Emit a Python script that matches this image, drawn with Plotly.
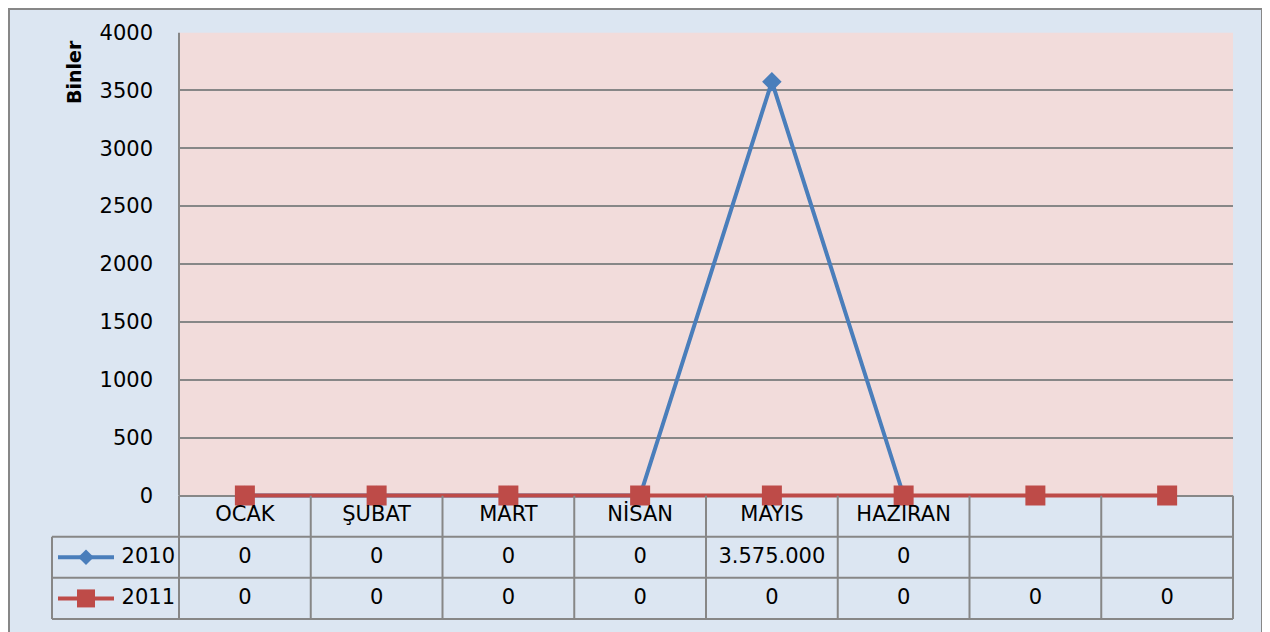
import plotly.graph_objects as go

# Monthly figures (raw units); chart shows them in thousands ("Binler")
months = ["OCAK", "ŞUBAT", "MART", "NİSAN", "MAYIS", "HAZIRAN", "", ""]
values_2010 = [0, 0, 0, 0, 3575000, 0, None, None]
values_2011 = [0, 0, 0, 0, 0, 0, 0, 0]
y_ticks = [0, 500, 1000, 1500, 2000, 2500, 3000, 3500, 4000]

BLUE = "#4A7EBB"
RED = "#BE4B48"
GRID = "#878787"
PINK = "#F2DCDB"
BG = "#DCE6F2"
FONT = "DejaVu Sans"

# the page puts the figure 8px in from the top-left corner
OFF = 8
FW, FH = 1270 - OFF, 632 - OFF
L, R, T, B = 38, 33, 22, 11
# target positions (screen pixels)
PX0, PX1 = 179, 1233
PY_TOP, PY_ZERO, PY_TAB = 32.5, 495.5, 619
Y_PAD = 60


def px_x(p):
    return (p - OFF - L) / (FW - L - R)


def px_y(p):
    return (FH - B - (p - OFF)) / (FH - T - B)


unit_x = (PX1 - PX0) / len(months)
unit_y = (PY_ZERO - PY_TOP) / 4000
row_h = (PY_TAB - PY_ZERO) / 3


def xp(p):
    return -0.5 + (p - PX0) / unit_x


def fmt(v):
    return "" if v is None else f"{v:,}".replace(",", ".")


idx = list(range(len(months)))
k2010 = [None if v is None else v / 1000 for v in values_2010]
k2011 = [None if v is None else v / 1000 for v in values_2011]

fig = go.Figure()

fig.add_trace(go.Scatter(
    x=idx, y=k2010, mode="lines+markers", name="2010",
    line=dict(color=BLUE, width=4),
    marker=dict(symbol="diamond", size=15, color=BLUE),
    cliponaxis=False, showlegend=False,
))
fig.add_trace(go.Scatter(
    x=idx, y=k2011, mode="lines+markers", name="2011",
    line=dict(color=RED, width=4),
    marker=dict(symbol="square", size=20, color=RED),
    cliponaxis=False, showlegend=False,
))

# data table below the chart
txt = dict(family=FONT, size=21, color="black")
for row, labels in [(0.5, months),
                    (1.5, [fmt(v) for v in values_2010]),
                    (2.5, [fmt(v) for v in values_2011])]:
    fig.add_trace(go.Scatter(x=idx, y=[row] * len(idx), text=labels, mode="text",
                             textfont=txt, xaxis="x2", yaxis="y2", showlegend=False))

# legend keys inside the table
for row, name, color, sym, size in [(1.5, "2010", BLUE, "diamond", 12),
                                     (2.5, "2011", RED, "square", 18)]:
    fig.add_trace(go.Scatter(
        x=[xp(58), xp(114)], y=[row] * 2, mode="lines",
        line=dict(color=color, width=4),
        xaxis="x2", yaxis="y2", showlegend=False, hoverinfo="skip",
    ))
    fig.add_trace(go.Scatter(
        x=[xp(86)], y=[row], mode="markers",
        marker=dict(symbol=sym, size=size, color=color, opacity=1),
        xaxis="x2", yaxis="y2", showlegend=False, hoverinfo="skip",
    ))
    fig.add_trace(go.Scatter(
        x=[xp(175)], y=[row], text=[name], mode="text", textposition="middle left",
        textfont=txt, xaxis="x2", yaxis="y2", showlegend=False,
    ))

x2_lo = -0.5 - (PX0 - OFF - L) / unit_x
x2_hi = len(months) - 0.5 + (FW - R - (PX1 - OFF)) / unit_x
y2_hi = 3 + (FH - B - (PY_TAB - OFF)) / row_h

shapes = [
    dict(type="rect", xref="x domain", yref="y", x0=0, x1=1, y0=0, y1=4000,
         fillcolor=PINK, line=dict(width=0), layer="below"),
    dict(type="rect", xref="paper", yref="paper", x0=px_x(9), x1=px_x(1262),
         y0=px_y(645), y1=px_y(9), line=dict(color=GRID, width=2)),
    dict(type="line", xref="x domain", yref="y", x0=0, x1=0, y0=0, y1=4000,
         line=dict(color=GRID, width=2)),
]
tl = dict(color=GRID, width=2)
for i in range(len(months) + 1):
    shapes.append(dict(type="line", xref="x2", yref="y2", x0=i - 0.5, x1=i - 0.5,
                       y0=0, y1=3, line=tl))
shapes.append(dict(type="line", xref="x2", yref="y2", x0=xp(52), x1=xp(52),
                   y0=1, y1=3, line=tl))
for r in (1, 2, 3):
    shapes.append(dict(type="line", xref="x2", yref="y2", x0=xp(52),
                       x1=len(months) - 0.5, y0=r, y1=r, line=tl))

hidden = dict(showgrid=False, showticklabels=False, zeroline=False, showline=False,
              automargin=False)

fig.update_layout(
    width=FW, height=FH,
    margin=dict(l=L, r=R, t=T, b=B, pad=0, autoexpand=False),
    paper_bgcolor=BG, plot_bgcolor="rgba(0,0,0,0)",
    font=dict(family=FONT, size=21, color="black"),
    showlegend=False,
    shapes=shapes,
    xaxis=dict(domain=[px_x(PX0), px_x(PX1)], range=[-0.5, len(months) - 0.5], **hidden),
    yaxis=dict(domain=[px_y(PY_ZERO + Y_PAD * unit_y), px_y(PY_TOP)],
               range=[-Y_PAD, 4000], tickvals=y_ticks,
               showgrid=True, gridcolor=GRID, gridwidth=2,
               zeroline=True, zerolinecolor=GRID, zerolinewidth=2,
               showline=False, ticks="", ticklabelstandoff=25,
               tickfont=txt, automargin=False),
    xaxis2=dict(domain=[0, 1], range=[x2_lo, x2_hi], anchor="y2", **hidden),
    yaxis2=dict(domain=[0, px_y(PY_ZERO)], range=[y2_hi, 0], anchor="x2", **hidden),
    annotations=[dict(text="<b>Binler</b>", textangle=-90, xref="paper", yref="paper",
                      x=px_x(74), y=px_y(72), xanchor="center", yanchor="middle",
                      showarrow=False, font=dict(family=FONT, size=19, color="black"))],
)

fig.write_html("out.html")
